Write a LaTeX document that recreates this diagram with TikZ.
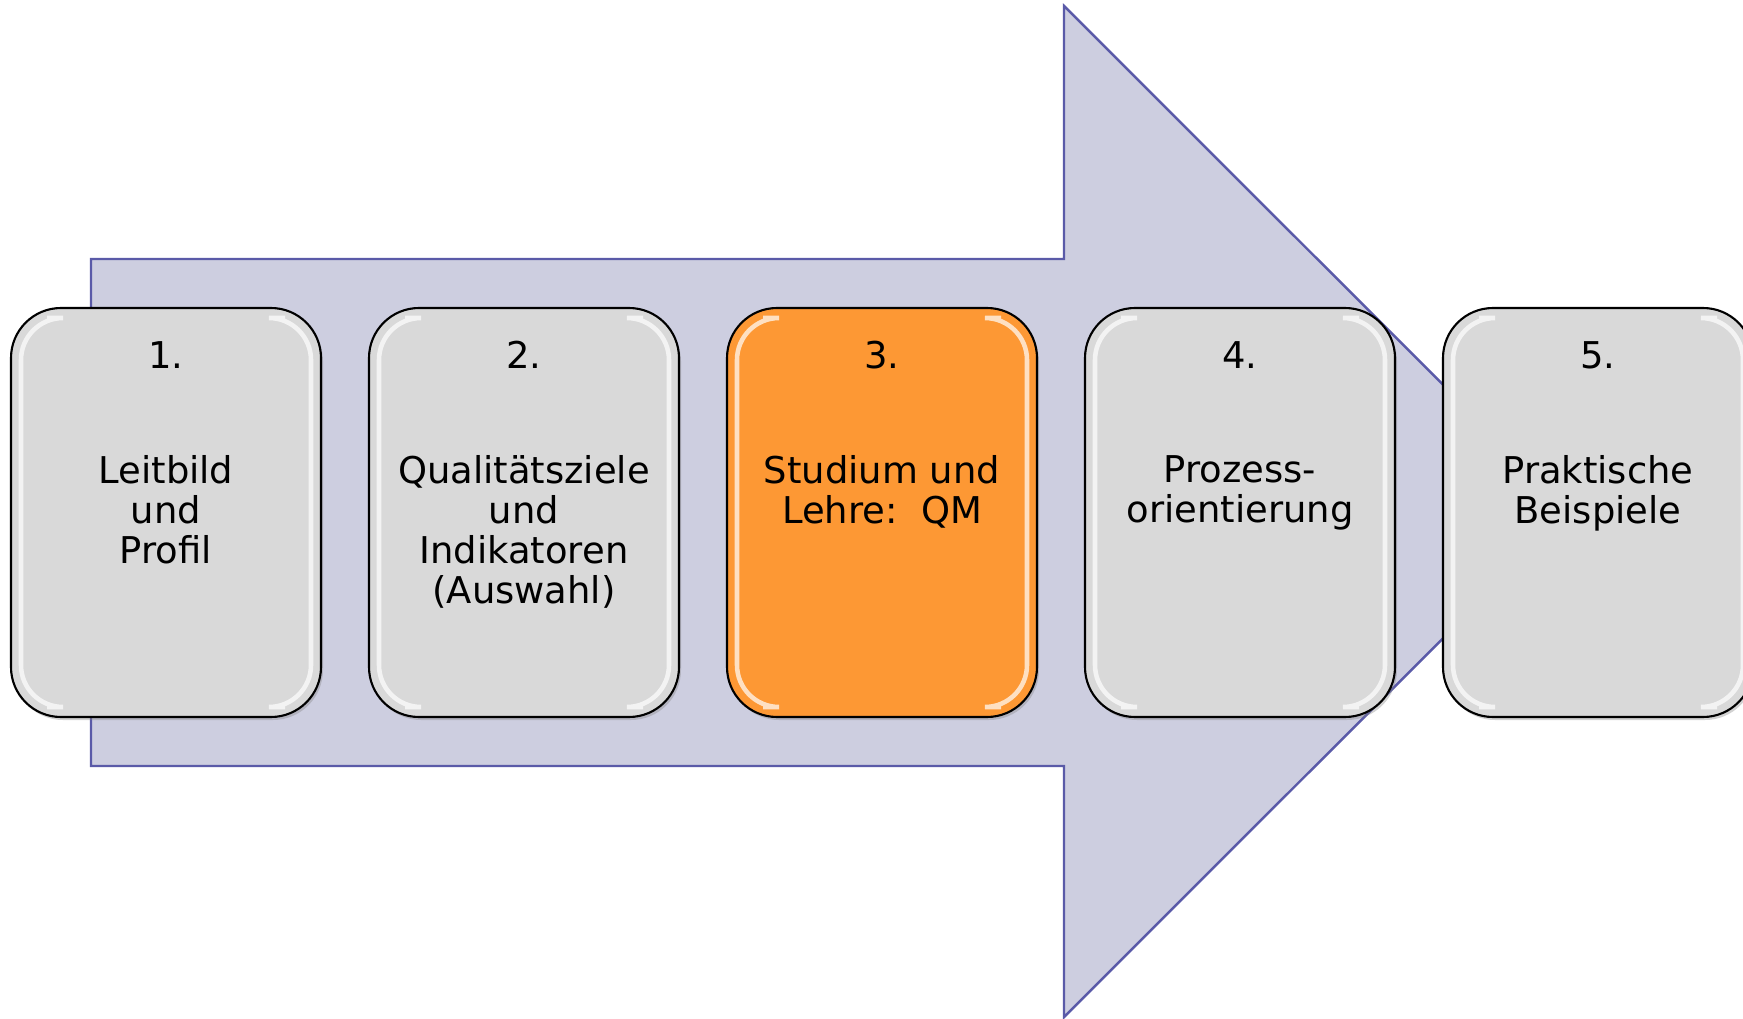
\documentclass[tikz,border=0pt]{standalone}
\usepackage{fontspec}
\setmainfont{DejaVu Sans}
\usepackage{xcolor}
\usetikzlibrary{positioning, shadows}
\definecolor{arrowfill}{RGB}{205,206,224}
\definecolor{arrowedge}{RGB}{90,90,168}
\definecolor{boxgray}{RGB}{217,217,217}
\definecolor{qmorange}{RGB}{253,152,52}

\tikzset{
  stage/.style={draw=black, line width=0.6pt, fill=boxgray, rounded corners=0.5cm,
    minimum width=3.1cm, minimum height=4.09cm, inner sep=0pt, outer sep=0pt,
    drop shadow={opacity=0.35, shadow xshift=0.02cm, shadow yshift=-0.03cm}},
  gloss/.style={draw=white, line width=1.3pt, rounded corners=0.42cm, opacity=0.7},
  num/.style={font=\fontsize{10.5}{11.4}\selectfont, anchor=base, inner sep=0pt},
  body/.style={font=\fontsize{10.5}{11.4}\selectfont, align=center, anchor=north, inner sep=0pt}
}

\begin{document}
\begin{tikzpicture}
    \useasboundingbox (0,0) rectangle (17.43,10.18);
    \fill[white] (0,0) rectangle (17.43,10.18);

    % Big arrow behind the stages
    \draw[arrowedge, line width=0.7pt, fill=arrowfill]
        (0.91,7.59) -- (10.64,7.59) -- (10.64,10.12) -- (15.70,5.065)
        -- (10.64,0.01) -- (10.64,2.52) -- (0.91,2.52) -- cycle;

    % Stages
    \node[stage] (b1) at (1.66,5.055) {};
    \node[stage, right=0.48cm of b1] (b2) {};
    \node[stage, fill=qmorange, right=0.48cm of b2] (b3) {};
    \node[stage, right=0.48cm of b3] (b4) {};
    \node[stage, right=0.48cm of b4] (b5) {};

    % Gloss highlights on the left and right sides
    \foreach \b in {b1,b2,b3,b4,b5} {
        \draw[gloss] ([shift={(0.36,-0.1)}]\b.north west) -- ([shift={(0.1,-0.1)}]\b.north west)
            -- ([shift={(0.1,0.1)}]\b.south west) -- ([shift={(0.36,0.1)}]\b.south west);
        \draw[gloss] ([shift={(-0.36,-0.1)}]\b.north east) -- ([shift={(-0.1,-0.1)}]\b.north east)
            -- ([shift={(-0.1,0.1)}]\b.south east) -- ([shift={(-0.36,0.1)}]\b.south east);
    }

    % Numbers
    \node[num] (n1) at ([yshift=-0.60cm]b1.north) {1.};
    \node[num] (n2) at ([yshift=-0.60cm]b2.north) {2.};
    \node[num] (n3) at ([yshift=-0.60cm]b3.north) {3.};
    \node[num] (n4) at ([yshift=-0.60cm]b4.north) {4.};
    \node[num] (n5) at ([yshift=-0.60cm]b5.north) {5.};

    % Titles
    \node[body] (t1) at ([yshift=-1.47cm]b1.north) {Leitbild\\und\\Profil};
    \node[body] (t2) at ([yshift=-1.47cm]b2.north) {Qualitätsziele\\und\\Indikatoren\\(Auswahl)};
    \node[body] (t3) at ([yshift=-1.47cm]b3.north) {Studium und\\Lehre:\ \ QM};
    \node[body] (t4) at ([yshift=-1.47cm]b4.north) {Prozess-\\orientierung};
    \node[body] (t5) at ([yshift=-1.47cm]b5.north) {Praktische\\Beispiele};
\end{tikzpicture}
\end{document}
